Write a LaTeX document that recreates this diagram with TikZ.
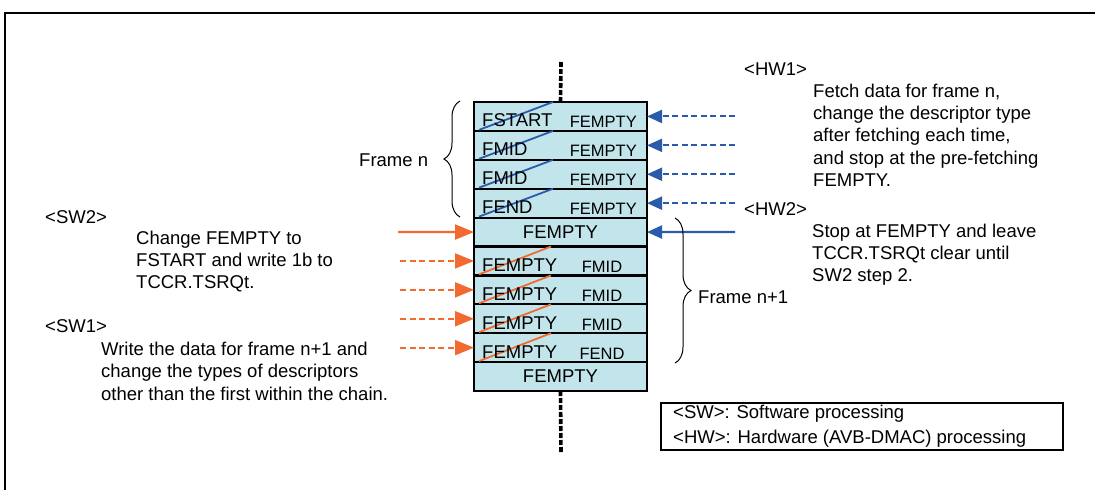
\documentclass[tikz,border=0pt]{standalone}
\usepackage{fontspec}
\setmainfont{Liberation Sans}
\usetikzlibrary{arrows.meta,decorations.pathreplacing}
\definecolor{cellfill}{HTML}{C2E5EB}
\definecolor{hwblue}{HTML}{2A5BAA}
\definecolor{sworange}{HTML}{F26A30}
\begin{document}
\begin{tikzpicture}[x=1pt,y=-1pt,
  cell/.style={draw=black, line width=2.2pt, fill=cellfill, minimum width=173pt, minimum height=28.9pt, inner sep=0pt, outer sep=0pt},
  txt/.style={font=\fontsize{18.5}{22.5}\selectfont, inner sep=0pt, anchor=base west},
  biglab/.style={font=\fontsize{18.5}{22}\selectfont, inner sep=0pt},
  smalllab/.style={font=\fontsize{16.5}{20}\selectfont, inner sep=0pt},
  strikeB/.style={draw=hwblue, line width=1.8pt},
  strikeO/.style={draw=sworange, line width=1.8pt},
  hwdash/.style={draw=hwblue, line width=2pt, dash pattern=on 6pt off 3.5pt, -{Triangle[length=15pt,width=13pt]}},
  hwsolid/.style={draw=hwblue, line width=2.2pt, -{Triangle[length=15pt,width=13pt]}},
  swdash/.style={draw=sworange, line width=2pt, dash pattern=on 6pt off 3.5pt, -{Triangle[length=19pt,width=15pt]}},
  swsolid/.style={draw=sworange, line width=2.2pt, -{Triangle[length=19pt,width=15pt]}},
  chain/.style={draw=black, line width=3.6pt, dash pattern=on 5pt off 2pt},
  bracestyle/.style={draw=black, line width=1pt, decorate, decoration={brace, amplitude=16pt}}
]
\useasboundingbox (0,0) rectangle (1095,490);
% outer frame
\draw[line width=2pt] (5,490) -- (5,12.5) -- (1095,12.5);

% descriptor rows
\foreach \i in {1,...,10}
  \node[cell] (r\i) at (560.5, {102+28.9*(\i-0.5)}) {};

% chain line
\coordinate (ctop) at (561,62);
\coordinate (cbot) at (561,452);
\draw[chain] (ctop) -- (r1.north);
\draw[chain] (r10.south) -- (cbot);

% strikes frame n
\foreach \i in {1,...,4}
  \draw[strikeB] ([xshift=5pt,yshift=1pt]r\i.south west) -- ([xshift=79pt]r\i.north west);
% strikes frame n+1
\foreach \i in {6,...,9}
  \draw[strikeO] ([xshift=5pt,yshift=1pt]r\i.south west) -- ([xshift=77pt]r\i.north west);

% labels frame n
\foreach \i/\t in {1/FSTART,2/FMID,3/FMID,4/FEND} {
  \node[biglab, anchor=base west] (ll\i) at ([xshift=8pt,yshift=4pt]r\i.south west) {\t};
  \node[smalllab, anchor=base east] (rl\i) at ([xshift=-10pt,yshift=3.5pt]r\i.south east) {FEMPTY};
}
\node[biglab] (l5) at (r5.center) {FEMPTY};
\node[biglab] (l10) at (r10.center) {FEMPTY};
\foreach \i/\t in {6/FMID,7/FMID,8/FMID,9/FEND} {
  \node[biglab, anchor=base west] (ll\i) at ([xshift=8pt,yshift=3.5pt]r\i.south west) {FEMPTY};
  \node[smalllab, anchor=base] (rl\i) at ([xshift=41.5pt,yshift=2.5pt]r\i.south) {\t};
}

% HW arrows
\foreach \i in {1,...,4} {
  \coordinate (hw\i) at (735, {102+28.9*(\i-0.5)});
  \draw[hwdash] (hw\i) -- (r\i.east);
}
\coordinate (hw5) at (735, 232.05);
\draw[hwsolid] (hw5) -- (r5.east);

% SW arrows
\coordinate (sw5) at (398, 232.05);
\draw[swsolid] (sw5) -- (r5.west);
\foreach \i in {6,...,9} {
  \coordinate (sw\i) at (400, {102+28.9*(\i-0.5)});
  \draw[swdash] (sw\i) -- (r\i.west);
}

% braces
\draw[bracestyle] (460,217) -- (460,101);
\node[txt] (fn) at (359,166) {Frame n};
\draw[bracestyle] (675,218) -- (675,363);
\node[txt] (fn1) at (698,303) {Frame n+1};

% SW texts
\node[txt] (sw2h) at (45,223) {<SW2>};
\foreach \t [count=\i from 0] in {Change FEMPTY to, FSTART and write 1b to, TCCR.TSRQt.}
  \node[txt] (swb\i) at (136, {244+22.3*\i}) {\t};
\node[txt] (sw1h) at (45,332) {<SW1>};
\foreach \t [count=\i from 0] in {Write the data for frame n+1 and, change the types of descriptors, other than the first within the chain.}
  \node[txt] (swa\i) at (101, {355+22.5*\i}) {\t};

% HW texts
\node[txt] (hw1h) at (744,75) {<HW1>};
\foreach \t [count=\i from 0] in {{Fetch data for frame n,}, change the descriptor type, {after fetching each time,}, and stop at the pre-fetching, FEMPTY.}
  \node[txt] (hwa\i) at (813, {97+22.4*\i}) {\t};
\node[txt] (hw2h) at (744,215) {<HW2>};
\foreach \t [count=\i from 0] in {Stop at FEMPTY and leave, TCCR.TSRQt clear until, SW2 step 2.}
  \node[txt] (hwb\i) at (812, {237+22.4*\i}) {\t};

% legend
\node[draw=black, line width=1.5pt, minimum width=402pt, minimum height=47pt, inner sep=0pt] (legend) at (862,426.5) {};
\node[txt] (leg1) at (673,418) {<SW>: Software processing};
\node[txt] (leg2) at (673,443) {<HW>: Hardware (AVB-DMAC) processing};
\end{tikzpicture}
\end{document}
